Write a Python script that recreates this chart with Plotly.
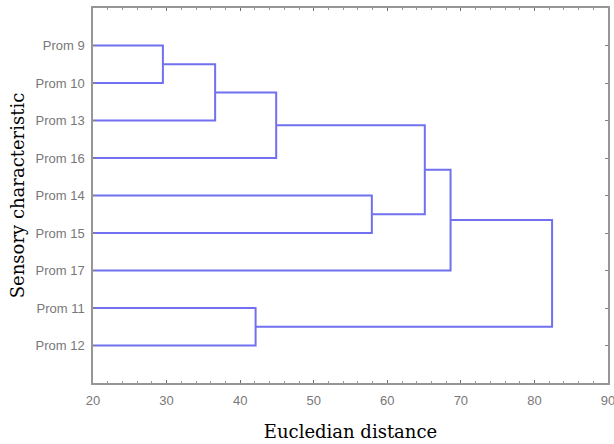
import plotly.graph_objects as go

# Leaves (top to bottom)
labels = ["Prom 9", "Prom 10", "Prom 13", "Prom 16", "Prom 14",
          "Prom 15", "Prom 17", "Prom 11", "Prom 12"]
# Agglomeration: cluster ids 9.. are created in this order
merge_left = [0, 9, 10, 4, 11, 13, 7, 14]
merge_right = [1, 2, 3, 5, 12, 6, 8, 15]
merge_height = [29.5, 36.6, 44.9, 57.9, 65.1, 68.6, 42.1, 82.4]

x_ticks = [20, 30, 40, 50, 60, 70, 80, 90]
x_min, x_max = 20, 90

n = len(labels)
node_x = {i: x_min for i in range(n)}
node_y = {i: i + 1 for i in range(n)}
xs, ys = [], []
for k, (a, b, h) in enumerate(zip(merge_left, merge_right, merge_height)):
    cid = n + k
    xs += [node_x[a], h, h, node_x[b], None]
    ys += [node_y[a], node_y[a], node_y[b], node_y[b], None]
    node_x[cid] = h
    node_y[cid] = (node_y[a] + node_y[b]) / 2

fig = go.Figure()
fig.add_trace(go.Scatter(x=xs, y=ys, mode="lines",
                         line=dict(color="rgb(112,112,240)", width=2),
                         hoverinfo="skip", showlegend=False))

axis_line = "rgb(150,150,150)"
tick_font = dict(family="Liberation Sans, Arial", size=13, color="rgb(120,120,120)")
title_font = dict(family="DejaVu Serif, serif", size=18, color="black")

fig.update_layout(
    width=614, height=444,
    margin=dict(l=93, r=6, t=8, b=61),
    paper_bgcolor="white", plot_bgcolor="white",
    xaxis=dict(range=[x_min, x_max], tickvals=x_ticks, ticktext=[str(v) for v in x_ticks],
               ticks="inside", ticklen=3, tickcolor="rgb(110,110,110)",
               minor=dict(dtick=2, ticks="inside", ticklen=2, tickcolor="rgb(150,150,150)"),
               showline=True, linecolor=axis_line, linewidth=1.5, mirror="allticks",
               showgrid=False, zeroline=False, tickfont=tick_font, ticklabelstandoff=5,
               automargin=False, ticklabeloverflow="allow",
               title=dict(text="Eucledian distance", font=title_font, standoff=18)),
    yaxis=dict(range=[10, 0], tickvals=list(range(1, n + 1)), ticktext=labels,
               ticks="inside", ticklen=3, tickcolor="rgb(130,130,130)",
               showline=True, linecolor=axis_line, linewidth=1.5, mirror="allticks",
               showgrid=False, zeroline=False, tickfont=tick_font, ticklabelstandoff=4,
               automargin=False,
               title=dict(text="Sensory characteristic", font=title_font, standoff=6)),
)

fig.write_html("out.html")
